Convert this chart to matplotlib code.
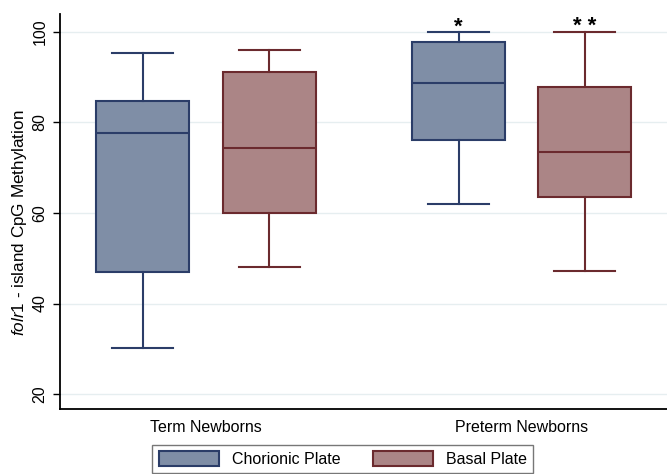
import matplotlib
matplotlib.use("Agg")
import matplotlib.pyplot as plt
from matplotlib.patches import Patch

plt.rcParams['font.family'] = ['Liberation Sans', 'DejaVu Sans']
plt.rcParams['mathtext.fontset'] = 'custom'
plt.rcParams['mathtext.rm'] = 'Liberation Sans'
plt.rcParams['mathtext.it'] = 'Liberation Sans:italic'

# data
groups = ['Term Newborns', 'Preterm Newborns']
series = ['Chorionic Plate', 'Basal Plate']
# (low whisker, q1, median, q3, high whisker) per series, per group
chorionic = [(30.2, 47.0, 77.6, 84.8, 95.3), (62.0, 76.1, 88.7, 97.8, 100.0)]
basal = [(48.1, 59.9, 74.3, 91.2, 96.0), (47.2, 63.5, 73.4, 87.8, 100.0)]
stars_chorionic = ['', '*']
stars_basal = ['', '* *']
yticks = [20, 40, 60, 80, 100]

fills = ['#7f8ea6', '#ab8586']
edges = ['#2b3d68', '#6b2a2e']

fig = plt.figure(figsize=(6.67, 4.74), dpi=100)
ax = fig.add_axes([0.09, 0.137, 0.91, 0.834])

offset = 0.2
for k, (vals, stars) in enumerate([(chorionic, stars_chorionic), (basal, stars_basal)]):
    stats = []
    for g, v in enumerate(vals):
        stats.append(dict(whislo=v[0], q1=v[1], med=v[2], q3=v[3], whishi=v[4], fliers=[]))
    pos = [g + 1 + (offset if k else -offset) for g in range(len(vals))]
    ax.bxp(stats, positions=pos, widths=0.295, capwidths=0.193, patch_artist=True,
           showfliers=False, manage_ticks=False,
           boxprops=dict(facecolor=fills[k], edgecolor=edges[k], linewidth=1.5),
           medianprops=dict(color=edges[k], linewidth=1.5),
           whiskerprops=dict(color=edges[k], linewidth=1.5),
           capprops=dict(color=edges[k], linewidth=1.5), zorder=3)
    for p, v, s in zip(pos, vals, stars):
        if s:
            ax.annotate(s, (p, v[4]), xytext=(0, -4), textcoords='offset points',
                        ha='center', va='bottom', fontsize=16, fontweight='bold')

ax.set_xlim(0.538, 2.46)
ax.set_ylim(16.7, 104)
ax.set_yticks(yticks)
ax.set_yticklabels([str(t) for t in yticks], rotation=90, va='center', fontsize=11.5)
ax.set_xticks([1, 2])
ax.set_xticklabels(groups, fontsize=11.5)
ax.tick_params(axis='x', length=0, pad=8)
ax.tick_params(axis='y', length=5, width=1, pad=4)
ax.grid(axis='y', color='#e6eef0', linewidth=1, zorder=0)
ax.set_axisbelow(True)
for s in ['top', 'right']:
    ax.spines[s].set_visible(False)
for s in ['left', 'bottom']:
    ax.spines[s].set_linewidth(1.3)
ax.set_ylabel(r'$\it{folr1}$ - island CpG Methylation', fontsize=12.3)
ax.yaxis.set_label_coords(-0.051, 0.471)

handles = [Patch(facecolor=fills[i], edgecolor=edges[i], linewidth=1.5, label=series[i]) for i in range(2)]
fig.legend(handles=handles, loc='upper center', bbox_to_anchor=(0.514, 0.079), ncol=2,
           fontsize=11.5, frameon=True, fancybox=False, edgecolor='#555555',
           handlelength=3.8, handleheight=1.1, columnspacing=2.0, handletextpad=0.8,
           borderpad=0.4)

fig.savefig('out.png', dpi=100)
